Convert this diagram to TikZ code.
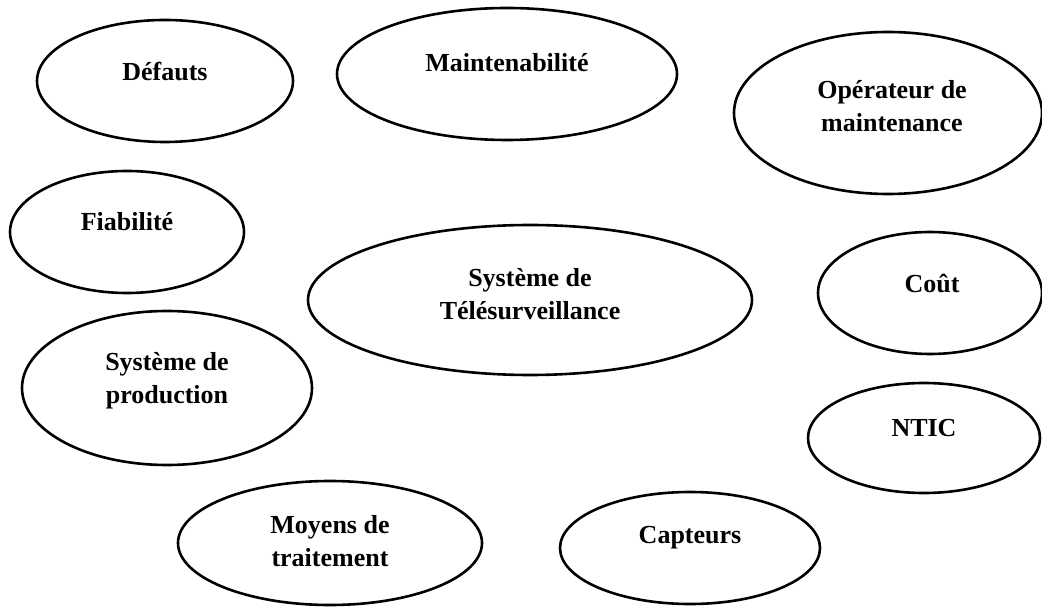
\documentclass[tikz,border=0pt]{standalone}
\usepackage{fontspec}
\setmainfont{Liberation Serif}
\usepackage{xcolor,tikz}
\usetikzlibrary{shapes.geometric}
\tikzset{bubble/.style={draw=black,ellipse,line width=1.3pt,inner sep=0pt},
  tag/.style={align=center,inner sep=0pt,font=\fontsize{13}{16.3}\selectfont\bfseries}}

\begin{document}
\begin{tikzpicture}[x=0.5pt,y=-0.5pt]
\useasboundingbox (0,0) rectangle (1042,608);
% outer ring of ellipses, top row
\node[bubble,minimum width=128pt,minimum height=61pt] (defauts) at (165,81) {};
\node[tag] (defauts-t) at ([yshift=4.5pt]defauts.center) {Défauts};
\node[bubble,minimum width=170pt,minimum height=66pt] (maint) at (507,74) {};
\node[tag] (maint-t) at ([yshift=5.5pt]maint.center) {Maintenabilité};
\node[bubble,minimum width=154pt,minimum height=81pt] (oper) at (888,113) {};
\node[tag] (oper-t) at ([xshift=2pt,yshift=3.5pt]oper.center) {Opérateur de\\maintenance};
% middle band
\node[bubble,minimum width=117pt,minimum height=61pt] (fiab) at (127,232) {};
\node[tag] (fiab-t) at ([yshift=5pt]fiab.center) {Fiabilité};
\node[bubble,minimum width=222pt,minimum height=75pt] (telesurv) at (530,300) {};
\node[tag] (telesurv-t) at ([yshift=3pt]telesurv.center) {Système de\\Télésurveillance};
\node[bubble,minimum width=112pt,minimum height=61pt] (cout) at (930,293) {};
\node[tag] (cout-t) at ([xshift=1pt,yshift=5pt]cout.center) {Coût};
\node[bubble,minimum width=145pt,minimum height=77pt] (prod) at (167,388) {};
\node[tag] (prod-t) at ([yshift=3.5pt]prod.center) {Système de\\production};
\node[bubble,minimum width=116pt,minimum height=55pt] (ntic) at (924,438) {};
\node[tag] (ntic-t) at ([yshift=5pt]ntic.center) {NTIC};
% bottom row
\node[bubble,minimum width=152pt,minimum height=62pt] (moyens) at (330,543) {};
\node[tag] (moyens-t) at ([yshift=1pt]moyens.center) {Moyens de\\traitement};
\node[bubble,minimum width=130pt,minimum height=56pt] (capteurs) at (690,548) {};
\node[tag] (capteurs-t) at ([yshift=5pt]capteurs.center) {Capteurs};
\end{tikzpicture}
\end{document}
